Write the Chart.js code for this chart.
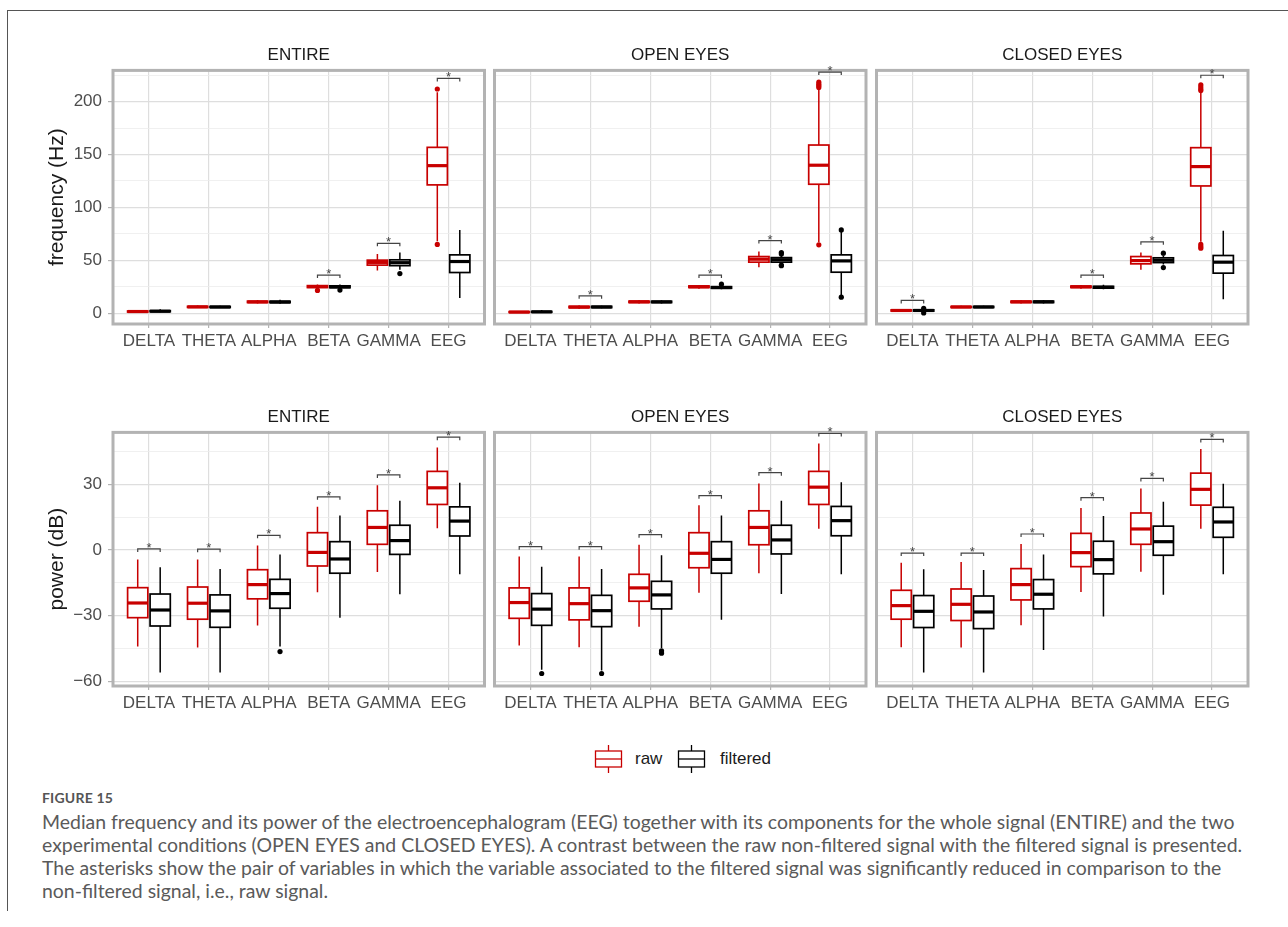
<!DOCTYPE html>
<html><head><meta charset="utf-8">
<script src="https://cdn.jsdelivr.net/npm/chart.js@4.4.1/dist/chart.umd.min.js"></script>
<style>
html,body{margin:0;padding:0;background:#fff;}
body{width:1288px;height:927px;position:relative;overflow:hidden;font-family:"Liberation Sans",Arial,Helvetica,sans-serif;}
canvas{position:absolute;}
#frame{position:absolute;left:7px;top:10px;width:1300px;height:900px;border-left:1.5px solid #555;border-top:1.5px solid #555;}
.leg{position:absolute;font-size:17px;color:#1a1a1a;line-height:20px;}
.legicon{position:absolute;}
.cap{position:absolute;left:42px;white-space:nowrap;font-family:Lato,"Open Sans",sans-serif;color:#5a5a5a;line-height:23px;}
#fig{position:absolute;left:42px;top:787px;font-family:Lato,"Open Sans",sans-serif;font-weight:bold;font-size:14px;color:#555;line-height:22px;letter-spacing:0.2px;}
</style></head>
<body>
<div id="frame"></div>
<canvas id="c0" width="495" height="324" style="left:0px;top:30px"></canvas>
<canvas id="c1" width="495" height="324" style="left:382px;top:30px"></canvas>
<canvas id="c2" width="495" height="324" style="left:764px;top:30px"></canvas>
<canvas id="c3" width="495" height="324" style="left:0px;top:392px"></canvas>
<canvas id="c4" width="495" height="324" style="left:382px;top:392px"></canvas>
<canvas id="c5" width="495" height="324" style="left:764px;top:392px"></canvas>

<svg class="legicon" style="left:594px;top:745px" width="29" height="29"><g stroke="#C80000" stroke-width="1.3" fill="#fff"><line x1="14.5" y1="0" x2="14.5" y2="6"/><line x1="14.5" y1="22" x2="14.5" y2="28"/><rect x="1.5" y="6" width="26" height="16"/><line x1="1.5" y1="14" x2="27.5" y2="14"/></g></svg>
<div class="leg" style="left:635px;top:749px">raw</div>
<svg class="legicon" style="left:677px;top:745px" width="29" height="29"><g stroke="#000" stroke-width="1.3" fill="#fff"><line x1="14.5" y1="0" x2="14.5" y2="6"/><line x1="14.5" y1="22" x2="14.5" y2="28"/><rect x="1.5" y="6" width="26" height="16"/><line x1="1.5" y1="14" x2="27.5" y2="14"/></g></svg>
<div class="leg" style="left:720px;top:749px">filtered</div>

<div id="fig">FIGURE 15</div>
<div class="cap" style="top:810px">Median frequency and its power of the electroencephalogram (EEG) together with its components for the whole signal (ENTIRE) and the two</div>
<div class="cap" style="top:833px">experimental conditions (OPEN EYES and CLOSED EYES). A contrast between the raw non-filtered signal with the filtered signal is presented.</div>
<div class="cap" style="top:856px">The asterisks show the pair of variables in which the variable associated to the filtered signal was significantly reduced in comparison to the</div>
<div class="cap" style="top:879px">non-filtered signal, i.e., raw signal.</div>

<script>
// ---------------- DATA ----------------
const categories = ['DELTA','THETA','ALPHA','BETA','GAMMA','EEG'];
const conditions = ['ENTIRE','OPEN EYES','CLOSED EYES'];
const seriesNames = ['raw','filtered'];
const freqTickLabels = [0,50,100,150,200];
const freqMinorTicks = [25,75,125,175,225];
const powerTickLabels = [-60,-30,0,30];
const powerMinorTicks = [-45,-15,15,45];

// box stats per category: [lower whisker, Q1, median, Q3, upper whisker]
const freqEntireRaw = [[0.5,1.0,1.5,2.0,2.6],[4.8,5.4,5.9,6.4,7.2],[9.0,10.0,10.6,11.3,12.3],[22.5,24.2,25.1,26.0,27.0],[40.3,45.4,48.0,50.1,56.0],[68,121.3,139.5,156.8,209]];
const freqEntireFilt = [[0.8,1.3,1.8,2.3,3.6],[4.8,5.3,5.8,6.3,7.0],[8.8,9.9,10.5,11.2,12.6],[23.0,24.0,24.9,25.8,27.0],[41,44.9,47.7,50.4,57.3],[14.2,38.4,48.8,55.1,78.7]];
const freqOpenRaw = [[0.2,0.6,1.0,1.4,2.0],[4.2,5.1,5.7,6.4,7.3],[9.0,10.0,10.7,11.3,12.5],[23.0,24.2,24.9,25.7,26.6],[43.5,48.2,51.0,53.5,58.2],[67,121.9,139.9,159,212.5]];
const freqOpenFilt = [[0.4,0.8,1.2,1.6,3.0],[4.5,5.2,5.8,6.4,7.0],[9.2,10.0,10.6,11.2,12.2],[22.5,23.5,24.2,25.0,26.0],[46.5,48.2,50.5,52.5,55.0],[17,38.7,49.4,55.1,77]];
const freqClosedRaw = [[1.5,2.0,2.5,3.0,3.6],[4.8,5.3,5.8,6.3,7.0],[9.2,10.0,10.7,11.3,12.2],[23.0,24.2,24.9,25.6,26.6],[41,46.6,49.7,53.5,57.3],[67.5,120.3,138.6,156.5,209]];
const freqClosedFilt = [[1.2,1.9,2.5,3.1,3.9],[4.9,5.3,5.8,6.3,6.9],[9.2,10.0,10.7,11.3,12.4],[22.5,23.6,24.4,25.3,26.8],[46,47.8,50.0,52.3,54.5],[13.2,37.8,48.2,54.5,78]];

const powerEntireRaw = [[-44.1,-30.9,-24.2,-17.2,-4.3],[-44.5,-31.6,-24.3,-16.9,-4.3],[-34.5,-22.3,-15.8,-9.0,2.1],[-19.3,-7.3,-1.1,7.9,19.8],[-10.0,2.6,10.3,17.9,29.6],[9.9,20.8,28.4,35.9,46.8]];
const powerEntireFilt = [[-55.9,-34.7,-27.4,-20.1,-7.9],[-55.9,-35.3,-27.8,-20.5,-8.7],[-44.1,-26.6,-19.9,-13.4,-2.0],[-30.9,-10.6,-4.1,3.8,15.7],[-20.2,-2.0,4.3,11.3,22.5],[-11.1,6.4,13.2,19.7,30.7]];
const powerOpenRaw = [[-43.6,-31.2,-24.0,-17.3,-3.0],[-44.4,-31.9,-24.5,-17.3,-3.0],[-35.0,-23.4,-17.3,-11.1,2.4],[-19.5,-8.1,-1.5,7.9,20.4],[-10.6,2.4,10.3,17.9,30.4],[9.7,20.8,28.7,35.9,48.6]];
const powerOpenFilt = [[-54.7,-34.4,-27.0,-19.9,-7.6],[-55.0,-35.0,-27.7,-20.7,-8.7],[-44.8,-26.9,-20.5,-14.3,-2.4],[-31.9,-10.6,-4.3,3.8,15.7],[-20.1,-1.8,4.6,11.3,22.5],[-11.1,6.5,13.4,19.9,30.9]];
const powerClosedRaw = [[-44.4,-31.6,-25.4,-18.4,-5.8],[-44.5,-32.2,-24.8,-17.8,-5.5],[-34.4,-22.8,-15.8,-8.5,2.7],[-19.2,-7.6,-1.2,7.6,19.2],[-9.9,2.6,9.6,16.9,28.1],[9.7,20.5,27.7,35.1,46.1]];
const powerClosedFilt = [[-55.9,-35.4,-28.0,-20.8,-8.8],[-55.9,-35.9,-28.3,-21.0,-9.1],[-45.7,-26.9,-20.2,-13.5,-2.0],[-30.4,-10.9,-4.4,4.0,15.5],[-20.4,-2.4,3.8,10.9,22.0],[-11.1,5.8,12.8,19.5,30.2]];

// outliers per category
const freqEntireRawOut = [[],[],[],[21.5],[],[65,212]];
const freqEntireFiltOut = [[],[],[],[21.8],[37.4],[]];
const freqOpenRawOut = [[],[],[],[],[],[64.6,213.5,215,216.5,218.5]];
const freqOpenFiltOut = [[],[],[],[27.4],[44.8,45.4,56,57.3],[15.1,78.7]];
const freqClosedRawOut = [[],[],[],[],[],[61.4,63,65,210.5,212,214,216]];
const freqClosedFiltOut = [[0.2,4.5],[],[],[],[43.1,56.7],[]];
const powerEntireRawOut = [[],[],[],[],[],[]];
const powerEntireFiltOut = [[],[],[-46.4],[],[],[]];
const powerOpenRawOut = [[],[],[],[],[],[]];
const powerOpenFiltOut = [[-56.4],[-56.4],[-46.0,-46.6,-47.1],[],[],[]];
const powerClosedRawOut = [[],[],[],[],[],[]];
const powerClosedFiltOut = [[],[],[],[],[],[]];

// significance bracket heights (null = none)
const freqEntireSig = [null,null,null,36,66,222];
const freqOpenSig = [null,16.4,null,36,68.6,228];
const freqClosedSig = [12,null,null,36,67.4,225];
const powerEntireSig = [0.5,0.4,6.7,24.3,34.3,51.5];
const powerOpenSig = [1.5,1.5,7.0,24.8,35.3,53.2];
const powerClosedSig = [-1.4,-1.4,7.3,23.9,32.7,50.5];

// ---------------- STYLE ----------------
const RED = '#C80000', BLACK = '#000000';
const DODGE = 0.1875, BOXW = 0.3375;
const FONT = '"Liberation Sans", Arial, Helvetica, sans-serif';

const boxPlugin = {
  id: 'boxes',
  beforeDatasetsDraw(chart) {
    const o = chart.options.plugins.boxes; if (!o) return;
    const ctx = chart.ctx, x = chart.scales.x, y = chart.scales.y;
    o.series.forEach(s => {
      s.stats.forEach((st, i) => {
        const xv = i + 1 + s.offset;
        const cx = x.getPixelForValue(xv);
        const l = x.getPixelForValue(xv - BOXW/2), r = x.getPixelForValue(xv + BOXW/2);
        const [lo, q1, med, q3, hi] = st.map(v => y.getPixelForValue(v));
        ctx.save();
        ctx.strokeStyle = s.color;
        ctx.lineWidth = 1.5;
        ctx.beginPath();
        ctx.moveTo(cx, hi); ctx.lineTo(cx, q3);
        ctx.moveTo(cx, q1); ctx.lineTo(cx, lo);
        ctx.stroke();
        ctx.fillStyle = '#fff';
        ctx.fillRect(l, q3, r - l, q1 - q3);
        ctx.lineWidth = 1.7;
        ctx.strokeRect(l, q3, r - l, q1 - q3);
        ctx.lineWidth = 3.2;
        ctx.beginPath(); ctx.moveTo(l, med); ctx.lineTo(r, med); ctx.stroke();
        ctx.restore();
      });
    });
  },
  afterDraw(chart) {
    const o = chart.options.plugins.boxes; if (!o) return;
    const ctx = chart.ctx, a = chart.chartArea, x = chart.scales.x, y = chart.scales.y;
    ctx.save();
    ctx.strokeStyle = '#b3b3b3'; ctx.lineWidth = 3;
    ctx.strokeRect(a.left, a.top, a.right - a.left, a.bottom - a.top);
    ctx.strokeStyle = '#444'; ctx.fillStyle = '#444'; ctx.lineWidth = 1.2;
    ctx.font = '13px ' + FONT; ctx.textAlign = 'center'; ctx.textBaseline = 'alphabetic';
    o.sig.forEach((v, i) => {
      if (v === null) return;
      const x1 = x.getPixelForValue(i + 1 - DODGE), x2 = x.getPixelForValue(i + 1 + DODGE);
      const yb = y.getPixelForValue(v);
      ctx.beginPath();
      ctx.moveTo(x1, yb + 3); ctx.lineTo(x1, yb); ctx.lineTo(x2, yb); ctx.lineTo(x2, yb + 3);
      ctx.stroke();
      ctx.fillText('*', (x1 + x2) / 2, yb + 3);
    });
    ctx.restore();
  }
};

const panels = [
  {id:'c0', cond:0, row:'freq', raw:freqEntireRaw, filt:freqEntireFilt, rawOut:freqEntireRawOut, filtOut:freqEntireFiltOut, sig:freqEntireSig},
  {id:'c1', cond:1, row:'freq', raw:freqOpenRaw, filt:freqOpenFilt, rawOut:freqOpenRawOut, filtOut:freqOpenFiltOut, sig:freqOpenSig},
  {id:'c2', cond:2, row:'freq', raw:freqClosedRaw, filt:freqClosedFilt, rawOut:freqClosedRawOut, filtOut:freqClosedFiltOut, sig:freqClosedSig},
  {id:'c3', cond:0, row:'power', raw:powerEntireRaw, filt:powerEntireFilt, rawOut:powerEntireRawOut, filtOut:powerEntireFiltOut, sig:powerEntireSig},
  {id:'c4', cond:1, row:'power', raw:powerOpenRaw, filt:powerOpenFilt, rawOut:powerOpenRawOut, filtOut:powerOpenFiltOut, sig:powerOpenSig},
  {id:'c5', cond:2, row:'power', raw:powerClosedRaw, filt:powerClosedFilt, rawOut:powerClosedRawOut, filtOut:powerClosedFiltOut, sig:powerClosedSig},
];
const panelLeft = [113, 494.5, 876.5];
const canvasLeft = [0, 382, 764];
const PANEL_W = 371.5;

function outPoints(outs, off) {
  const pts = [];
  outs.forEach((arr, i) => arr.forEach(v => pts.push({x: i + 1 + off, y: v})));
  return pts;
}

panels.forEach(p => {
  const isFreq = p.row === 'freq';
  const first = p.cond === 0;
  const yAxisW = panelLeft[p.cond] - canvasLeft[p.cond];
  const canvas = document.getElementById(p.id);
  const padR = canvas.width - yAxisW - PANEL_W;
  const labels = isFreq ? freqTickLabels : powerTickLabels;
  const minors = isFreq ? freqMinorTicks : powerMinorTicks;
  const allTicks = labels.concat(minors).sort((a, b) => a - b);
  new Chart(canvas, {
    type: 'scatter',
    data: {
      datasets: [
        {label: seriesNames[0], data: outPoints(p.rawOut, -DODGE), backgroundColor: RED, borderColor: RED, pointRadius: 2.6, borderWidth: 0, clip: false},
        {label: seriesNames[1], data: outPoints(p.filtOut, DODGE), backgroundColor: BLACK, borderColor: BLACK, pointRadius: 2.6, borderWidth: 0, clip: false}
      ]
    },
    options: {
      responsive: false, animation: false, devicePixelRatio: 1,
      layout: {padding: {left: 0, right: padR, top: 0, bottom: 0}, autoPadding: false},
      plugins: {
        legend: {display: false}, tooltip: {enabled: false},
        title: {display: true, text: conditions[p.cond], fullSize: false, color: '#1a1a1a',
                font: {size: 17, family: FONT, weight: 'normal'}, padding: {top: 15, bottom: 5}},
        boxes: {series: [{stats: p.raw, offset: -DODGE, color: RED}, {stats: p.filt, offset: DODGE, color: BLACK}], sig: p.sig}
      },
      scales: {
        x: {
          type: 'linear', min: 0.4, max: 6.6,
          afterBuildTicks: s => { s.ticks = categories.map((c, i) => ({value: i + 1})); },
          afterFit: s => { s.height = 30; },
          ticks: {callback: v => categories[Math.round(v) - 1], color: '#4d4d4d', font: {size: 17, family: FONT}, padding: 3, maxRotation: 0, autoSkip: false},
          grid: {color: '#dedede', lineWidth: 1.2, tickLength: 4, tickColor: '#b3b3b3', tickWidth: 1.2},
          border: {display: false}
        },
        y: {
          type: 'linear', min: isFreq ? -10.3 : -62.1, max: isFreq ? 229.6 : 53.7,
          afterBuildTicks: s => { s.ticks = allTicks.map(v => ({value: v})); },
          afterFit: s => { s.width = yAxisW; },
          ticks: {display: first, callback: v => labels.includes(v) ? String(v).replace('-', '\u2212') : '',
                  color: '#4d4d4d', font: {size: 17, family: FONT}, padding: 6, autoSkip: false},
          grid: {
            color: c => (c.tick && labels.includes(c.tick.value)) ? '#dedede' : '#ececec',
            lineWidth: c => (c.tick && labels.includes(c.tick.value)) ? 1.2 : 0.8,
            drawTicks: first, tickLength: 5,
            tickColor: c => (c.tick && labels.includes(c.tick.value)) ? '#b3b3b3' : 'rgba(0,0,0,0)',
            tickWidth: 1.2
          },
          border: {display: false},
          title: {display: first, text: isFreq ? 'frequency (Hz)' : 'power (dB)', color: '#1a1a1a',
                  font: {size: 21, family: FONT, weight: 'normal'}, padding: {top: 45, bottom: 0}}
        }
      }
    },
    plugins: [boxPlugin]
  });
});

// fit caption width
const caps = document.querySelectorAll('.cap');
caps.forEach(c => c.style.fontSize = '17px');
const w0 = caps[0].getBoundingClientRect().width;
const fs = 17 * 1193 / w0;
caps.forEach(c => c.style.fontSize = fs.toFixed(2) + 'px');
</script>
</body></html>
